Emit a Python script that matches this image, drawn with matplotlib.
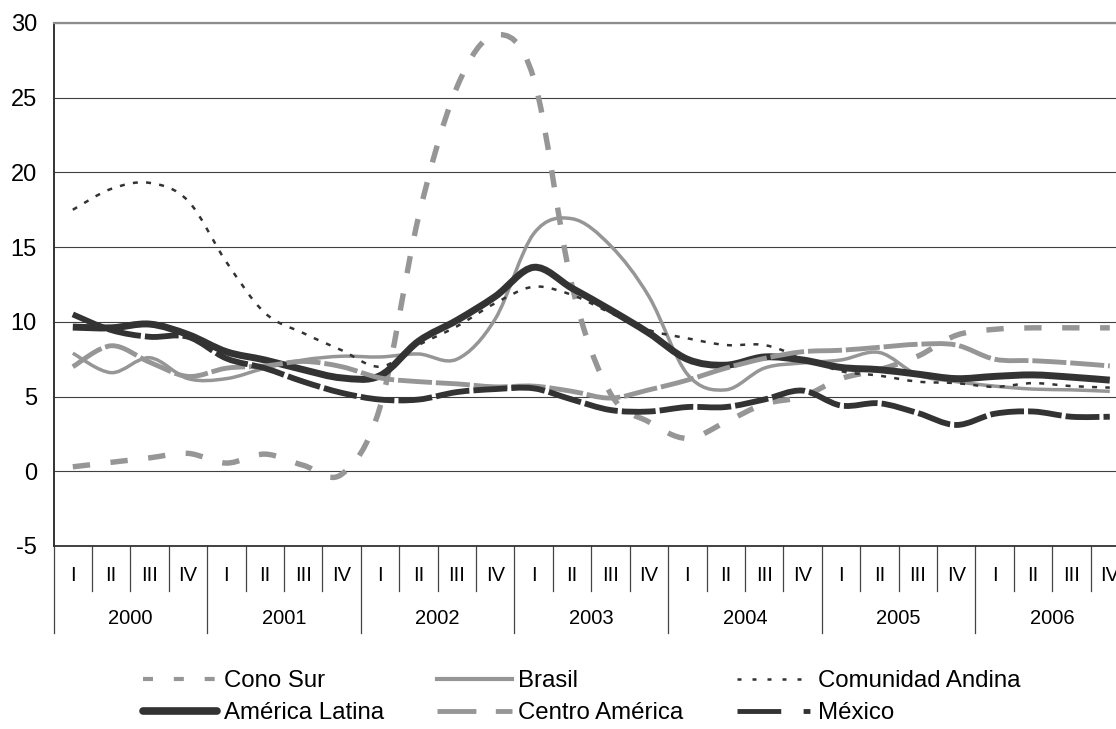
import numpy as np
import matplotlib
matplotlib.use('Agg')
import matplotlib.pyplot as plt
from matplotlib.path import Path
from matplotlib.patches import PathPatch
from matplotlib.lines import Line2D

plt.rcParams['font.family'] = ['Liberation Sans', 'DejaVu Sans']
plt.rcParams['axes.unicode_minus'] = False

# %% data (quarterly values 2000 I - 2006 IV)
years = ['2000', '2001', '2002', '2003', '2004', '2005', '2006']
quarters = ['I', 'II', 'III', 'IV']

cono_sur = [0.3, 0.6, 0.9, 1.2, 0.55, 1.15, 0.4, -0.2,
            4.3, 17.0, 25.7, 29.2, 26.3, 12.4, 5.2, 3.3,
            2.2, 3.3, 4.5, 5.0, 6.2, 6.8, 7.7, 9.1,
            9.5, 9.6, 9.6, 9.6]
brasil = [7.9, 6.6, 7.6, 6.2, 6.2, 6.9, 7.45, 7.7,
          7.65, 7.85, 7.5, 10.2, 15.9, 16.9, 15.1, 11.7,
          6.5, 5.45, 6.9, 7.25, 7.45, 7.95, 6.45, 6.0,
          5.7, 5.5, 5.45, 5.35]
com_andina = [17.5, 18.9, 19.3, 18.1, 14.0, 10.6, 9.25, 8.1,
              7.0, 8.45, 9.7, 11.25, 12.35, 11.8, 10.6, 9.45,
              8.9, 8.45, 8.45, 7.6, 6.7, 6.4, 6.0, 5.9,
              5.65, 5.9, 5.7, 5.6]
america_latina = [9.65, 9.6, 9.85, 9.15, 8.0, 7.45, 6.8, 6.25,
                  6.4, 8.7, 10.1, 11.7, 13.65, 12.25, 10.8, 9.25,
                  7.5, 7.1, 7.65, 7.45, 6.95, 6.8, 6.5, 6.2,
                  6.35, 6.45, 6.3, 6.1]
centro_america = [7.0, 8.4, 7.3, 6.35, 6.9, 7.05, 7.35, 7.0,
                  6.25, 6.0, 5.85, 5.65, 5.7, 5.35, 4.9, 5.45,
                  6.1, 6.9, 7.55, 8.0, 8.1, 8.3, 8.5, 8.45,
                  7.5, 7.4, 7.25, 7.05]
mexico = [10.5, 9.45, 9.0, 9.0, 7.55, 6.9, 6.0, 5.25,
          4.8, 4.8, 5.3, 5.5, 5.55, 4.8, 4.1, 4.0,
          4.3, 4.3, 4.8, 5.4, 4.4, 4.55, 3.9, 3.1,
          3.85, 4.0, 3.65, 3.65]

GRAY = '#969696'
DARK = '#333333'


def smooth_path(y):
    # excel-like smoothed line: bezier segments through every data point
    x = np.arange(len(y), dtype=float)
    y = np.asarray(y, dtype=float)
    px = np.concatenate([[x[0]], x, [x[-1]]])
    py = np.concatenate([[y[0]], y, [y[-1]]])
    verts = [(x[0], y[0])]
    codes = [Path.MOVETO]
    for i in range(len(x) - 1):
        c1 = (x[i] + (px[i + 2] - px[i]) / 6, y[i] + (py[i + 2] - py[i]) / 6)
        c2 = (x[i + 1] - (px[i + 3] - px[i + 1]) / 6,
              y[i + 1] - (py[i + 3] - py[i + 1]) / 6)
        verts += [c1, c2, (x[i + 1], y[i + 1])]
        codes += [Path.CURVE4] * 3
    return Path(verts, codes)


fig = plt.figure(figsize=(11.16, 7.29), dpi=100)
ax = fig.add_axes([53.6 / 1116, 183 / 729, 1075.4 / 1116, 523 / 729])

# series: (values, color, linewidth pt, dash pattern or None)
series = [
    (cono_sur, GRAY, 3.9, (3.2, 3.8)),
    (brasil, GRAY, 2.5, None),
    (com_andina, DARK, 1.8, (2.0, 3.3)),
    (america_latina, DARK, 5.0, None),
    (centro_america, GRAY, 3.5, (7.0, 0.8)),
    (mexico, DARK, 4.2, (5.8, 0.7)),
]
for k, (vals, col, lw, dash) in enumerate(series):
    ls = '-' if dash is None else (0, dash)
    patch = PathPatch(smooth_path(vals), fill=False, edgecolor=col, lw=lw,
                      linestyle=ls, capstyle='butt', joinstyle='round',
                      zorder=3 + k)
    ax.add_patch(patch)

ax.set_xlim(-0.5, 27.5)
ax.set_ylim(-5, 30)
ax.set_yticks(range(-5, 31, 5))
ax.set_xticks([])
ax.yaxis.grid(True, color='#404040', lw=0.8)
ax.tick_params(axis='y', length=0, pad=12, labelsize=17)

ax.spines['right'].set_visible(False)
ax.spines['top'].set_color('#8c8c8c')
ax.spines['top'].set_linewidth(1.6)
ax.spines['left'].set_color('#333333')
ax.spines['left'].set_linewidth(1.4)
ax.spines['bottom'].set_color('#333333')
ax.spines['bottom'].set_linewidth(1.3)

# %% two level category axis (quarters / years)
trans = ax.get_xaxis_transform()
q_len = 45 / 523
y_len = 87 / 523
n = len(years) * len(quarters)
for k in range(n + 1):
    depth = y_len if k % 4 == 0 else q_len
    ax.add_line(Line2D([k - 0.5, k - 0.5], [0, -depth], transform=trans,
                       color='#444444', lw=0.9, clip_on=False))
for k in range(n):
    ax.text(k, -29.5 / 523, quarters[k % 4], transform=trans,
            ha='center', va='center', fontsize=14.5)
for j, yr in enumerate(years):
    ax.text(4 * j + 1.5, -73 / 523, yr, transform=trans,
            ha='center', va='center', fontsize=14.5)

# %% legend (excel style swatches)
labels = ['Cono Sur', 'América Latina', 'Brasil', 'Centro América',
          'Comunidad Andina', 'México']
handles = [
    Line2D([], [], color=GRAY, lw=3.0, dashes=(2.4, 5.0)),
    Line2D([], [], color=DARK, lw=5.5, solid_capstyle='round'),
    Line2D([], [], color=GRAY, lw=3.0),
    Line2D([], [], color=GRAY, lw=3.5, dashes=(8.0, 4.0)),
    Line2D([], [], color=DARK, lw=1.8, dashes=(1.6, 4.4)),
    Line2D([], [], color=DARK, lw=3.5, dashes=(9.0, 4.6, 1.4, 4.6)),
]
fig.legend(handles, labels, ncol=3, loc='upper left',
           bbox_to_anchor=(143 / 1116, 1 - 670 / 729), frameon=False,
           fontsize=17.3, handlelength=3.1, handletextpad=0.28,
           columnspacing=2.2, labelspacing=0.42, borderpad=0,
           borderaxespad=0)

fig.savefig('out.png', dpi=100)
